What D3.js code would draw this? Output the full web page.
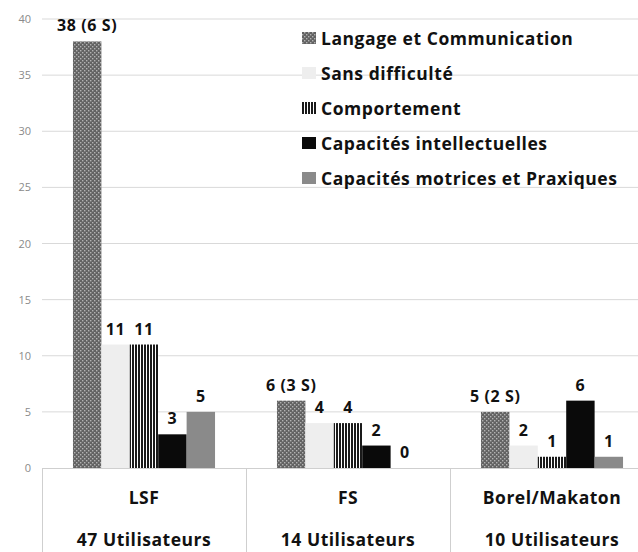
<!DOCTYPE html>
<html>
<head>
<meta charset="utf-8">
<script src="https://cdn.jsdelivr.net/npm/d3@7"></script>
<style>
  body { margin: 0; background: #fff; }
  svg { display: block; font-family: "Open Sans", sans-serif; }
</style>
</head>
<body>
<div id="chart"></div>
<script>
'use strict';

// données
const groups = ['LSF', 'FS', 'Borel/Makaton'];
const users = ['47 Utilisateurs', '14 Utilisateurs', '10 Utilisateurs'];
const series = [
  'Langage et Communication',
  'Sans difficulté',
  'Comportement',
  'Capacités intellectuelles',
  'Capacités motrices et Praxiques'
];
const values = [
  [38, 11, 11, 3, 5],
  [6, 4, 4, 2, 0],
  [5, 2, 1, 6, 1]
];
const labels = [
  ['38 (6 S)', '11', '11', '3', '5'],
  ['6 (3 S)', '4', '4', '2', '0'],
  ['5 (2 S)', '2', '1', '6', '1']
];
const yTicks = [0, 5, 10, 15, 20, 25, 30, 35, 40];

const W = 638, H = 552;
const plot = { left: 42, right: 654, top: 19, bottom: 468 };

const svg = d3.select('#chart').append('svg')
  .attr('width', W).attr('height', H);

// motifs
const defs = svg.append('defs');
const dots = defs.append('pattern').attr('id', 'p-dots')
  .attr('width', 4).attr('height', 4).attr('patternUnits', 'userSpaceOnUse');
dots.append('rect').attr('width', 4).attr('height', 4).attr('fill', '#626262');
dots.append('rect').attr('x', 0).attr('y', 0).attr('width', 1.4).attr('height', 1.4).attr('fill', '#b2b2b2');
dots.append('rect').attr('x', 2).attr('y', 2).attr('width', 1.4).attr('height', 1.4).attr('fill', '#b2b2b2');

const stripes = defs.append('pattern').attr('id', 'p-stripes')
  .attr('width', 3).attr('height', 4).attr('patternUnits', 'userSpaceOnUse');
stripes.append('rect').attr('width', 3).attr('height', 4).attr('fill', '#fff');
stripes.append('rect').attr('width', 2).attr('height', 4).attr('fill', '#1a1a1a');

const fills = ['url(#p-dots)', '#eeeeee', 'url(#p-stripes)', '#0a0a0a', '#8a8a8a'];

const x0 = d3.scaleBand().domain(groups).range([plot.left, plot.right]);
const x1 = d3.scaleBand().domain(series).range([0, x0.bandwidth()])
  .paddingInner(0).paddingOuter(1.09);
const y = d3.scaleLinear().domain([0, 40]).range([plot.bottom, plot.top]);

// grille
svg.append('g').selectAll('line').data(yTicks.filter(d => d > 0)).join('line')
  .attr('x1', plot.left).attr('x2', W)
  .attr('y1', d => y(d)).attr('y2', d => y(d))
  .attr('stroke', '#d9d9d9').attr('stroke-width', 1);

// axe Y
const yAxis = svg.append('g')
  .attr('transform', `translate(${plot.left},0)`)
  .call(d3.axisLeft(y).tickValues(yTicks).tickSize(0).tickPadding(11));
yAxis.select('.domain').remove();
yAxis.selectAll('text')
  .attr('fill', '#8a8a8a').style('font-size', '11px')
  .style('font-family', '"Open Sans", sans-serif');

// barres
const g = svg.append('g').selectAll('g').data(groups).join('g')
  .attr('transform', d => `translate(${x0(d)},0)`);

g.selectAll('rect').data((d, i) => values[i].map((v, j) => ({ v, j }))).join('rect')
  .attr('x', d => x1(series[d.j]))
  .attr('width', x1.bandwidth())
  .attr('y', d => y(d.v))
  .attr('height', d => y(0) - y(d.v))
  .attr('fill', d => fills[d.j]);

g.selectAll('text').data((d, i) => values[i].map((v, j) => ({ v, j, t: labels[i][j] }))).join('text')
  .attr('x', d => x1(series[d.j]) + x1.bandwidth() / 2)
  .attr('y', d => y(d.v) - 10)
  .attr('text-anchor', 'middle')
  .attr('font-weight', 'bold')
  .attr('font-size', 16)
  .attr('letter-spacing', 0.6)
  .attr('fill', '#111')
  .text(d => d.t);

// axe X en tableau
const axisG = svg.append('g');
axisG.append('line')
  .attr('x1', plot.left).attr('x2', W)
  .attr('y1', y(0) + 0.5).attr('y2', y(0) + 0.5)
  .attr('stroke', '#cfcfcf');
axisG.selectAll('.sep').data(groups).join('line').attr('class', 'sep')
  .attr('x1', d => x0(d) + 0.5).attr('x2', d => x0(d) + 0.5)
  .attr('y1', y(0)).attr('y2', H)
  .attr('stroke', '#cfcfcf');
axisG.selectAll('.cat').data(groups).join('text').attr('class', 'cat')
  .attr('x', d => x0(d) + x0.bandwidth() / 2)
  .attr('y', 504)
  .attr('text-anchor', 'middle')
  .attr('font-weight', 'bold').attr('font-size', 17.5).attr('letter-spacing', 0.5)
  .attr('fill', '#111')
  .text(d => d);
axisG.selectAll('.usr').data(groups).join('text').attr('class', 'usr')
  .attr('x', d => x0(d) + x0.bandwidth() / 2)
  .attr('y', 546)
  .attr('text-anchor', 'middle')
  .attr('font-weight', 'bold').attr('font-size', 17.5).attr('letter-spacing', 0.5)
  .attr('fill', '#111')
  .text((d, i) => users[i]);

// légende
const legend = svg.append('g').attr('transform', 'translate(302,38)');
const item = legend.selectAll('g').data(series).join('g')
  .attr('transform', (d, i) => `translate(0,${i * 35})`);
item.append('rect')
  .attr('x', 0).attr('y', -6).attr('width', 14).attr('height', 12)
  .attr('fill', (d, i) => fills[i]);
item.append('text')
  .attr('x', 19).attr('y', 7)
  .attr('font-weight', 'bold').attr('font-size', 17.5).attr('letter-spacing', 0.55)
  .attr('fill', '#111')
  .text(d => d);
</script>
</body>
</html>
